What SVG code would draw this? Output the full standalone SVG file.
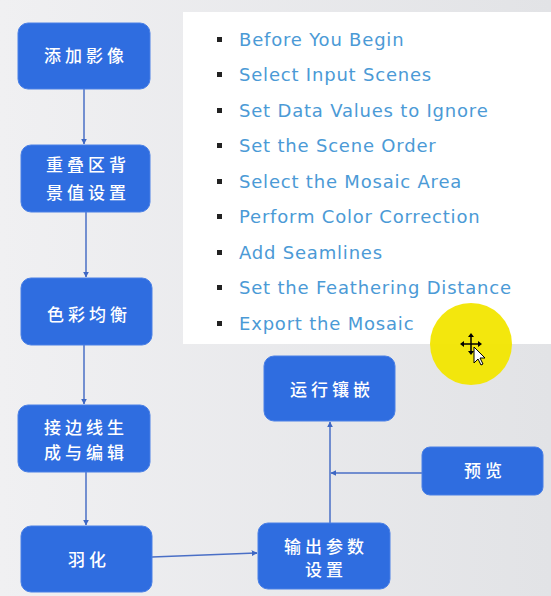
<svg xmlns="http://www.w3.org/2000/svg" width="551" height="596" viewBox="0 0 551 596">
<defs>
<linearGradient id="bg" x1="0" y1="0" x2="1" y2="0">
<stop offset="0" stop-color="#f0f0f2"/>
<stop offset="1" stop-color="#e2e3e6"/>
</linearGradient>
<marker id="ah" viewBox="0 0 10 10" refX="9" refY="5" markerWidth="6" markerHeight="6" orient="auto" markerUnits="userSpaceOnUse">
<path d="M0,0 L10,5 L0,10 z" fill="#3d67c4"/>
</marker>
<style>
.node{fill:#2f6de0;stroke:#4a80e6;stroke-width:1}
.nt{font-family:"Noto Sans CJK SC","Noto Sans",sans-serif;font-size:17px;font-weight:500;fill:#ffffff;text-anchor:middle;letter-spacing:4px}
.edge{fill:none;stroke:#4a6fc6;stroke-width:1.5;marker-end:url(#ah)}
.li{font-family:"DejaVu Sans",Verdana,sans-serif;font-size:18px;letter-spacing:0.8px;fill:#4b9ad6}
.bul{fill:#222}
</style>
</defs>
<rect x="0" y="0" width="551" height="596" fill="url(#bg)"/>
<rect x="183" y="12" width="368" height="332" fill="#ffffff"/>
<g id="list">
<rect class="bul" x="217" y="37" width="5" height="5"/>
<rect class="bul" x="217" y="72" width="5" height="5"/>
<rect class="bul" x="217" y="108" width="5" height="5"/>
<rect class="bul" x="217" y="143" width="5" height="5"/>
<rect class="bul" x="217" y="179" width="5" height="5"/>
<rect class="bul" x="217" y="214" width="5" height="5"/>
<rect class="bul" x="217" y="250" width="5" height="5"/>
<rect class="bul" x="217" y="285" width="5" height="5"/>
<rect class="bul" x="217" y="321" width="5" height="5"/>
<text class="li" x="239" y="46">Before You Begin</text>
<text class="li" x="239" y="81">Select Input Scenes</text>
<text class="li" x="239" y="117">Set Data Values to Ignore</text>
<text class="li" x="239" y="152">Set the Scene Order</text>
<text class="li" x="239" y="188">Select the Mosaic Area</text>
<text class="li" x="239" y="223">Perform Color Correction</text>
<text class="li" x="239" y="259">Add Seamlines</text>
<text class="li" x="239" y="294">Set the Feathering Distance</text>
<text class="li" x="239" y="330">Export the Mosaic</text>
</g>
<g id="connectors">
<path class="edge" d="M84,89 V144"/>
<path class="edge" d="M86,212 V277"/>
<path class="edge" d="M84,345 V404"/>
<path class="edge" d="M86,472 V525"/>
<path class="edge" d="M152,557 L257,553"/>
<path class="edge" d="M330,523 V422"/>
<path class="edge" d="M422,473 H331"/>
</g>
<g id="n1"><rect class="node" x="18" y="23" width="132" height="66" rx="10"/><text class="nt" x="86" y="62">添加影像</text></g>
<g id="n2"><rect class="node" x="21" y="145" width="129" height="67" rx="10"/><text class="nt" x="88" y="171">重叠区背</text><text class="nt" x="88" y="199">景值设置</text></g>
<g id="n3"><rect class="node" x="21" y="278" width="131" height="67" rx="10"/><text class="nt" x="89" y="321">色彩均衡</text></g>
<g id="n4"><rect class="node" x="18" y="405" width="132" height="67" rx="10"/><text class="nt" x="86" y="434">接边线生</text><text class="nt" x="86" y="459">成与编辑</text></g>
<g id="n5"><rect class="node" x="21" y="526" width="131" height="66" rx="10"/><text class="nt" x="89" y="566">羽化</text></g>
<g id="n6"><rect class="node" x="258" y="523" width="132" height="66" rx="10"/><text class="nt" x="326" y="553">输出参数</text><text class="nt" x="326" y="576">设置</text></g>
<g id="n7"><rect class="node" x="264" y="356" width="131" height="65" rx="10"/><text class="nt" x="332" y="396">运行镶嵌</text></g>
<g id="n8"><rect class="node" x="422" y="447" width="121" height="48" rx="8"/><text class="nt" x="485" y="477">预览</text></g>
<g id="cursor">
<circle cx="471" cy="344" r="41" fill="#f2e600" opacity="0.95"/>
<path d="M471,336 v16 M463,344 h16" stroke="#000" stroke-width="1.5"/>
<path d="M471,333 l-3,4 h6z M471,355 l-3,-4 h6z M460,344 l4,-3 v6z M482,344 l-4,-3 v6z" fill="#000"/>
<path d="M474,347 v16 l4,-4 l3,6 l2,-1 l-3,-6 h5z" fill="#fff" stroke="#000" stroke-width="1"/>
</g>
</svg>
